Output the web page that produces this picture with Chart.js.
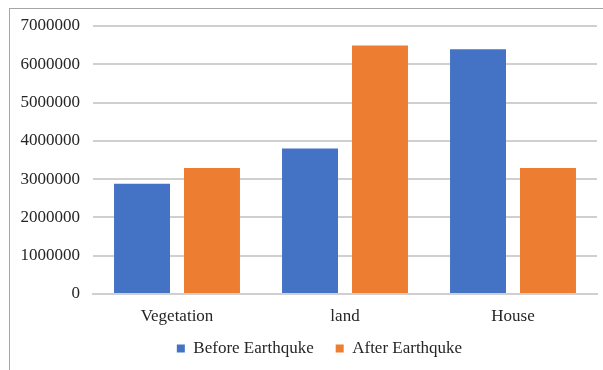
<!DOCTYPE html>
<html>
<head>
<meta charset="utf-8">
<script src="https://cdn.jsdelivr.net/npm/chart.js@4/dist/chart.umd.min.js"></script>
<style>
  html, body { margin: 0; padding: 0; background: #fff; }
  #wrap { position: relative; width: 603px; height: 370px; overflow: hidden; }
  #frame { position: absolute; left: 9px; top: 8px; width: 700px; height: 500px;
           border-left: 1px solid #a6a6a6; border-top: 1px solid #a6a6a6; pointer-events: none; }
  canvas { position: absolute; left: 0; top: 0; }
</style>
</head>
<body>
<div id="wrap">
  <canvas id="chart" width="603" height="370"></canvas>
  <div id="frame"></div>
</div>
<script>
const categories = ["Vegetation", "land", "House"];
const beforeEarthquake = [2880000, 3800000, 6390000];
const afterEarthquake = [3290000, 6490000, 3290000];
const yTicks = [0, 1000000, 2000000, 3000000, 4000000, 5000000, 6000000, 7000000];

Chart.defaults.font.family = "'Liberation Serif', 'Times New Roman', serif";
Chart.defaults.font.size = 17;
Chart.defaults.color = "#262626";

// wide horizontal gap between legend items, but a compact legend row
const legendTweak = {
  id: "legendTweak",
  beforeUpdate(chart) {
    const lg = chart.legend;
    if (lg && !lg._compact) {
      const fit = lg.fit;
      lg.fit = function () { fit.call(this); this.height -= 7; };
      lg._compact = true;
    }
  },
  beforeDraw(chart) {
    if (chart.legend) { chart.legend.left = 42; chart.legend.top = 318; }
  }
};

new Chart(document.getElementById("chart"), {
  type: "bar",
  data: {
    labels: categories,
    datasets: [
      { label: "Before Earthquke", data: beforeEarthquake, backgroundColor: "#4472c4",
        borderWidth: 0, categoryPercentage: 0.833, barPercentage: 0.8 },
      { label: "After Earthquke", data: afterEarthquake, backgroundColor: "#ed7d31",
        borderWidth: 0, categoryPercentage: 0.833, barPercentage: 0.8 }
    ]
  },
  plugins: [legendTweak],
  options: {
    responsive: false,
    animation: false,
    devicePixelRatio: 1,
    layout: { padding: { left: 0, top: 26, right: 6, bottom: 0 } },
    plugins: {
      tooltip: { enabled: false },
      legend: {
        position: "bottom",
        labels: { boxWidth: 8, boxHeight: 8, padding: 22 }
      }
    },
    scales: {
      x: {
        grid: { display: false, drawTicks: false },
        border: { display: true, color: "#d0d0d0", width: 2 },
        ticks: { padding: 12 },
        afterFit: s => { s.height = 34; }
      },
      y: {
        min: 0, max: 7000000,
        afterBuildTicks: s => { s.ticks = yTicks.map(v => ({ value: v })); },
        grid: { color: "#d0d0d0", lineWidth: 2, drawTicks: false },
        border: { display: false },
        ticks: { padding: 13, callback: v => String(v) },
        afterFit: s => { s.width = 93; }
      }
    }
  }
});
</script>
</body>
</html>
